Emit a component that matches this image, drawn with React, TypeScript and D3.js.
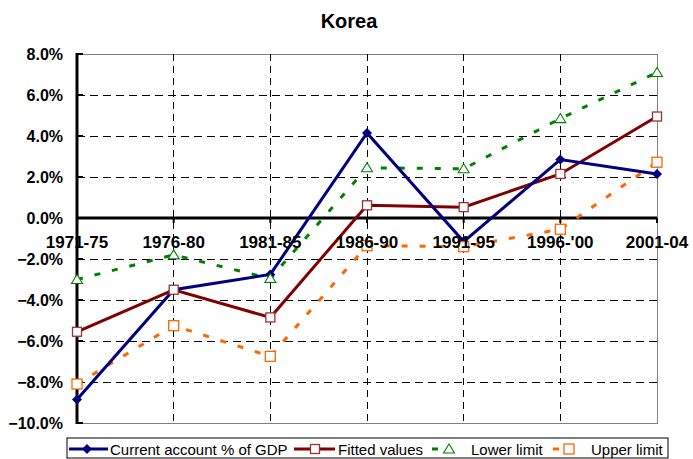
import React from "react";
import * as d3 from "d3";

// data
const periods = ["1971-75", "1976-80", "1981-85", "1986-90", "1991-95", "1996-'00", "2001-04"];
const currentAccount = [-8.85, -3.5, -2.75, 4.15, -1.15, 2.85, 2.15];
const fittedValues = [-5.55, -3.5, -4.85, 0.62, 0.53, 2.15, 4.95];
const lowerLimit = [-3.0, -1.8, -2.95, 2.45, 2.4, 4.85, 7.1];
const upperLimit = [-8.1, -5.25, -6.75, -1.35, -1.4, -0.55, 2.72];
const yTicks = [8, 6, 4, 2, 0, -2, -4, -6, -8, -10];

const W = 693;
const H = 459;
const margin = { top: 54, right: 36, bottom: 36, left: 77 };

const App = () => {
  const x = d3
    .scalePoint()
    .domain(periods)
    .range([margin.left, W - margin.right]);
  const y = d3
    .scaleLinear()
    .domain([-10, 8])
    .range([H - margin.bottom, margin.top]);

  const line = d3
    .line<number>()
    .x((d, i) => x(periods[i]))
    .y((d) => y(d));

  const fmt = (v: number) => (v < 0 ? "\u2212" : "") + Math.abs(v).toFixed(1) + "%";
  const font = "'Liberation Sans', Arial, sans-serif";
  const x0 = margin.left;
  const x1 = W - margin.right;
  const y0 = margin.top;
  const y1 = H - margin.bottom;

  const square = (cx: number, cy: number, s: number, stroke: string, key: string) => (
    <rect key={key} x={cx - s / 2} y={cy - s / 2} width={s} height={s} fill="white" stroke={stroke} strokeWidth={1.3} />
  );
  const triangle = (cx: number, cy: number, key: string) => (
    <path key={key} d={`M${cx},${cy - 5}L${cx + 5.5},${cy + 4}L${cx - 5.5},${cy + 4}Z`} fill="white" stroke="#008000" strokeWidth={1.1} />
  );
  const diamond = (cx: number, cy: number, key: string) => (
    <path key={key} d={`M${cx},${cy - 5}L${cx + 5},${cy}L${cx},${cy + 5}L${cx - 5},${cy}Z`} fill="#000080" />
  );

  return (
    <svg width={W} height={H} style={{ position: "absolute", left: 0, top: 0, background: "white" }}>
      <text x={349} y={28} textAnchor="middle" fontFamily={font} fontWeight="bold" fontSize={20}>
        Korea
      </text>

      {/* plot border */}
      <rect x={x0} y={y0} width={x1 - x0} height={y1 - y0} fill="none" stroke="#808080" strokeWidth={1} shapeRendering="crispEdges" />

      {/* horizontal gridlines */}
      {yTicks
        .filter((t) => t !== 8 && t !== -10 && t !== 0)
        .map((t) => (
          <line key={"h" + t} x1={x0} x2={x1} y1={y(t)} y2={y(t)} stroke="#000" strokeWidth={1} strokeDasharray="8,5" shapeRendering="crispEdges" />
        ))}
      {/* vertical gridlines */}
      {periods.slice(1, -1).map((p) => (
        <line key={"v" + p} x1={x(p)} x2={x(p)} y1={y0} y2={y1} stroke="#000" strokeWidth={1} strokeDasharray="7,5" shapeRendering="crispEdges" />
      ))}

      {/* zero line with category ticks */}
      <line x1={x0} x2={x1} y1={y(0)} y2={y(0)} stroke="#000" strokeWidth={3} />
      {periods.map((p) => (
        <line key={"xt" + p} x1={x(p)} x2={x(p)} y1={y(0)} y2={y(0) + 5} stroke="#000" strokeWidth={2} />
      ))}

      {/* y axis */}
      <line x1={x0} x2={x0} y1={y0 - 1} y2={y1 + 1} stroke="#000" strokeWidth={3} />
      {yTicks.map((t) => (
        <g key={"yt" + t}>
          <line x1={x0} x2={x0 + 6} y1={y(t)} y2={y(t)} stroke="#000" strokeWidth={2} />
          <text x={63} y={y(t)} dy="0.36em" textAnchor="end" fontFamily={font} fontWeight="bold" fontSize={16}>
            {fmt(t)}
          </text>
        </g>
      ))}

      {/* series lines */}
      <path d={line(lowerLimit) || ""} fill="none" stroke="#008000" strokeWidth={3} strokeDasharray="6,12" />
      <path d={line(upperLimit) || ""} fill="none" stroke="#FF6600" strokeWidth={3} strokeDasharray="6,12" />
      <path d={line(fittedValues) || ""} fill="none" stroke="#800000" strokeWidth={3} />
      <path d={line(currentAccount) || ""} fill="none" stroke="#000080" strokeWidth={3} />

      {/* markers */}
      {currentAccount.map((v, i) => diamond(x(periods[i]) as number, y(v), "ca" + i))}
      {fittedValues.map((v, i) => square(x(periods[i]) as number, y(v), 9, "#993333", "fv" + i))}
      {lowerLimit.map((v, i) => triangle(x(periods[i]) as number, y(v), "ll" + i))}
      {upperLimit.map((v, i) => square(x(periods[i]) as number, y(v), 10, "#FF6600", "ul" + i))}

      {/* category labels */}
      {periods.map((p) => (
        <text key={"xl" + p} x={x(p)} y={248} textAnchor="middle" fontFamily={font} fontWeight="bold" fontSize={17}>
          {p}
        </text>
      ))}

      {/* legend */}
      <g fontFamily={font} fontSize={15}>
        <rect x={67} y={438} width={601} height={20} fill="white" stroke="#000" strokeWidth={1} />
        <line x1={69} x2={108} y1={449} y2={449} stroke="#000080" strokeWidth={3} />
        {diamond(87, 449, "lg1")}
        <text x={110} y={455}>Current account % of GDP</text>
        <line x1={294} x2={335} y1={449} y2={449} stroke="#800000" strokeWidth={3} />
        {square(315, 449, 9, "#993333", "lg2")}
        <text x={338} y={455}>Fitted values</text>
        <line x1={432} x2={438} y1={449} y2={449} stroke="#008000" strokeWidth={3} />
        {triangle(449, 449, "lg3")}
        <text x={471} y={455}>Lower limit</text>
        <line x1={553} x2={559} y1={449} y2={449} stroke="#FF6600" strokeWidth={3} />
        {square(569, 449, 10, "#FF6600", "lg4")}
        <text x={591} y={455}>Upper limit</text>
      </g>
    </svg>
  );
};

export default App;
